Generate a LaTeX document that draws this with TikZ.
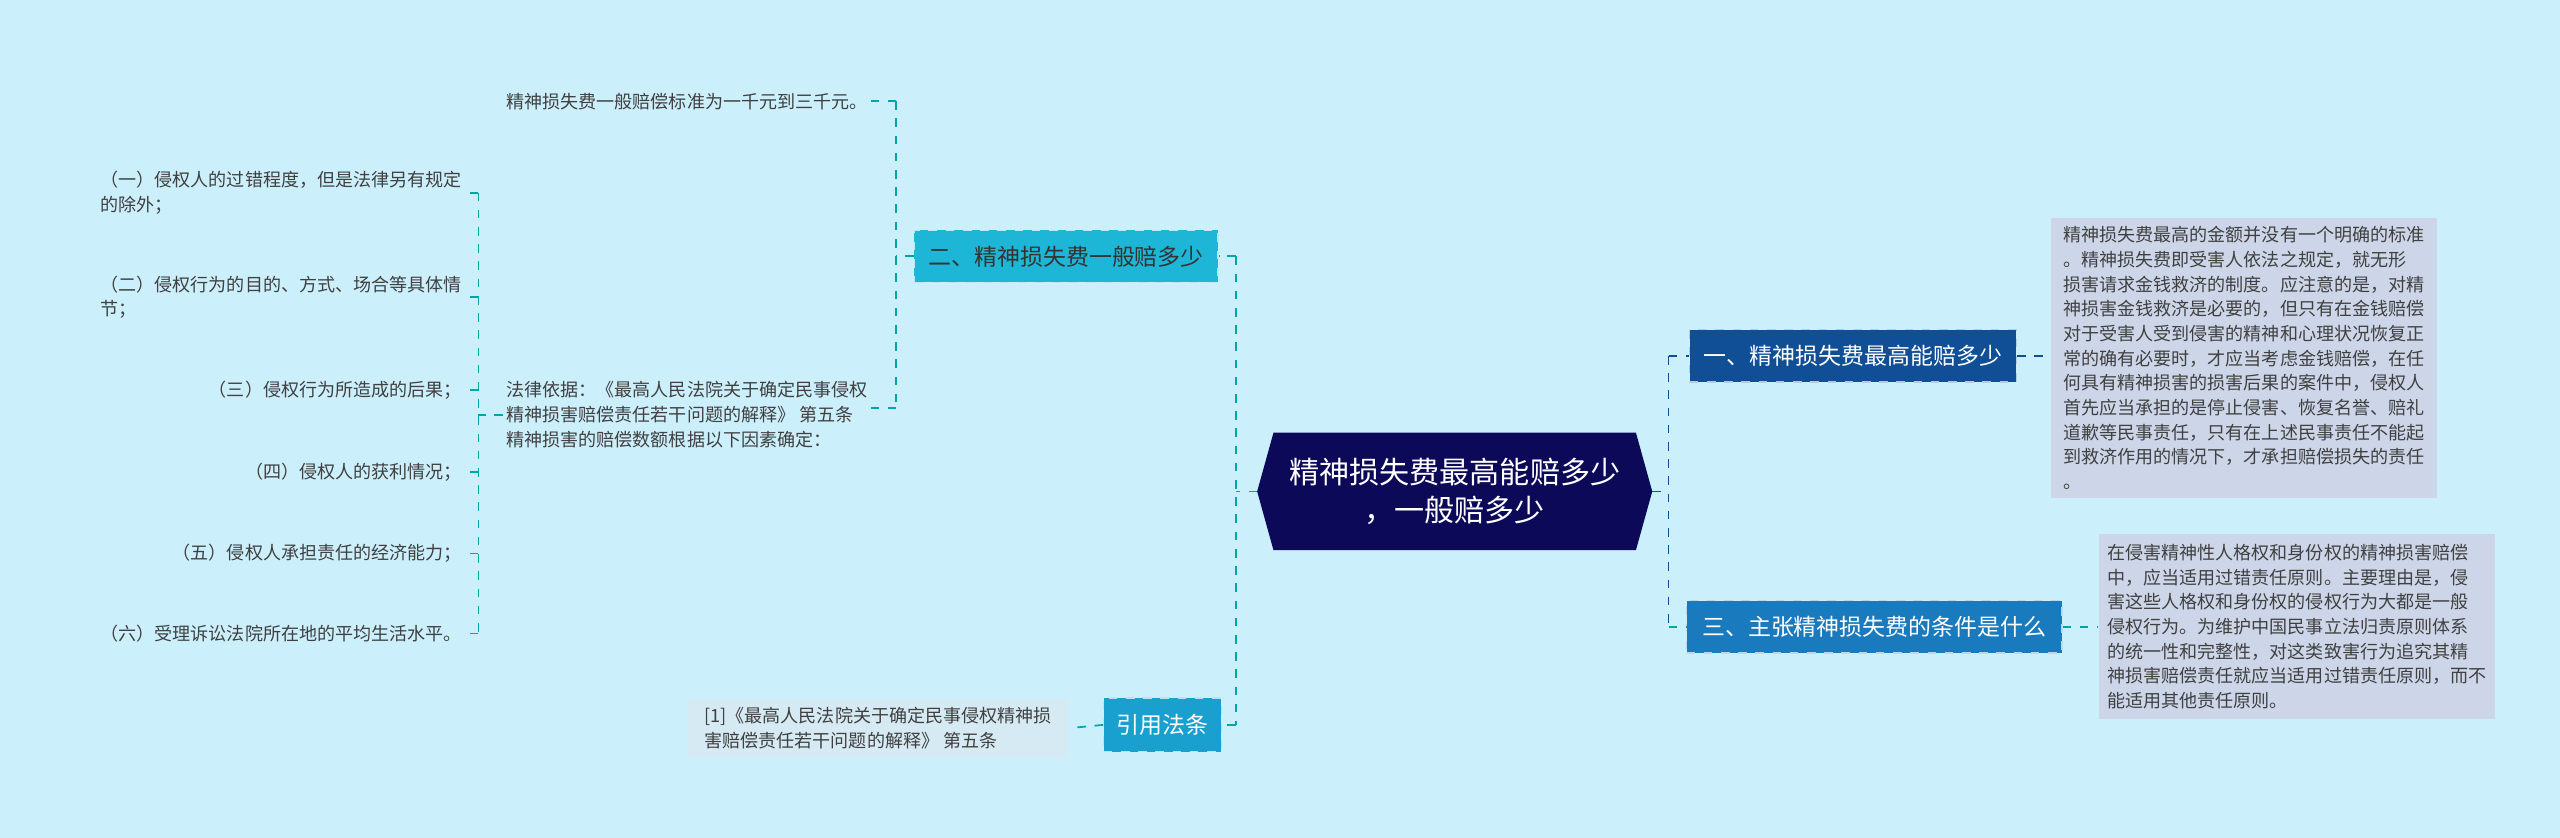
\documentclass[tikz,border=0pt]{standalone}
\usepackage{fontspec}
\setmainfont{Noto Sans CJK SC}
\definecolor{cnavy}{RGB}{12,10,88}
\definecolor{cdb}{RGB}{16,78,150}
\definecolor{cmb}{RGB}{26,122,190}
\definecolor{ccy}{RGB}{30,182,214}
\definecolor{ccite}{RGB}{26,160,206}
\definecolor{clav}{RGB}{204,214,232}
\definecolor{clb}{RGB}{214,234,244}
\begin{document}
\begin{tikzpicture}[x=0.02cm,y=-0.02cm,
  lk/.style={draw=teal!70!cyan,dashed,line width=0.6pt},
  sm/.style={font=\fontsize{6.3pt}{8.6pt}\selectfont,text=black!75,inner sep=1pt},
  tb/.style={sm,fill=#1,inner sep=3pt,align=left,anchor=north west},
  br/.style={font=\fontsize{8pt}{10pt}\selectfont,inner sep=3pt,draw=white!70!#1,dashed,fill=#1}]
\fill[cyan!20!white] (0,0) rectangle (1568,513);
\useasboundingbox (0,0) rectangle (1568,513);
% center
\fill[cnavy] (770,301)--(780,265)--(1002,265)--(1012,301)--(1002,337)--(780,337)--cycle;
\node[font=\fontsize{10.5pt}{13pt}\selectfont,text=white,align=center] (c) at (891,301) {精神损失费最高能赔多少\\，一般赔多少};
% right
\node[br=cdb,text=white,minimum height=32*0.02cm,minimum width=200*0.02cm] (r1) at (1135,218) {一、精神损失费最高能赔多少};
\node[br=cmb,text=white,minimum height=32*0.02cm,minimum width=230*0.02cm] (r3) at (1148,384) {三、主张精神损失费的条件是什么};
\node[tb=clav,minimum width=236*0.02cm,minimum height=169*0.02cm] (t1) at (1256,133) {精神损失费最高的金额并没有一个明确的标准\\。精神损失费即受害人依法之规定，就无形\\损害请求金钱救济的制度。应注意的是，对精\\神损害金钱救济是必要的，但只有在金钱赔偿\\对于受害人受到侵害的精神和心理状况恢复正\\常的确有必要时，才应当考虑金钱赔偿，在任\\何具有精神损害的损害后果的案件中，侵权人\\首先应当承担的是停止侵害、恢复名誉、赔礼\\道歉等民事责任，只有在上述民事责任不能起\\到救济作用的情况下，才承担赔偿损失的责任\\。};
\node[tb=clav,minimum width=235*0.02cm,minimum height=113*0.02cm] (t2) at (1285,327) {在侵害精神性人格权和身份权的精神损害赔偿\\中，应当适用过错责任原则。主要理由是，侵\\害这些人格权和身份权的侵权行为大都是一般\\侵权行为。为维护中国民事立法归责原则体系\\的统一性和完整性，对这类致害行为追究其精\\神损害赔偿责任就应当适用过错责任原则，而不\\能适用其他责任原则。};
% left
\node[br=ccy,text=black!80,minimum height=32*0.02cm,minimum width=186*0.02cm] (l2) at (653,157) {二、精神损失费一般赔多少};
\node[br=ccite,text=white,minimum height=33*0.02cm,minimum width=72*0.02cm] (cite) at (712,444) {引用法条};
\node[sm,anchor=west] (s1) at (308,62) {精神损失费一般赔偿标准为一千元到三千元。};
\node[sm,anchor=west,align=left] (s2) at (308,254) {法律依据：《最高人民法院关于确定民事侵权\\精神损害赔偿责任若干问题的解释》 第五条\\精神损害的赔偿数额根据以下因素确定：};
\node[tb=clb,anchor=west,minimum width=233*0.02cm,minimum height=36*0.02cm] (cb) at (421,446) {[1]《最高人民法院关于确定民事侵权精神损\\害赔偿责任若干问题的解释》 第五条};
\node[sm,anchor=east,align=left] (i1) at (285,118) {（一）侵权人的过错程度，但是法律另有规定\\的除外；};
\node[sm,anchor=east,align=left] (i2) at (285,182) {（二）侵权行为的目的、方式、场合等具体情\\节；};
\node[sm,anchor=east] (i3) at (285,239) {（三）侵权行为所造成的后果；};
\node[sm,anchor=east] (i4) at (285,289) {（四）侵权人的获利情况；};
\node[sm,anchor=east] (i5) at (285,339) {（五）侵权人承担责任的经济能力；};
\node[sm,anchor=east] (i6) at (285,388) {（六）受理诉讼法院所在地的平均生活水平。};
% connectors
\coordinate (cl) at (770,301); \coordinate (cr) at (1012,301);
\draw[lk] (cl) -- (757,301) (757,157) -- (757,444);
\draw[lk] (757,157) -- (l2.east); \draw[lk] (757,444) -- (cite.east);
\draw[lk] (l2.west) -- (549,157) (549,62) -- (549,250);
\draw[lk] (549,62) -- (s1.east); \draw[lk] (549,250) -- (s2.east|-0,250);
\draw[lk] (s2.west) -- (293,254) (293,118) -- (293,388);
\foreach \n/\yy in {i1/118,i2/182,i3/239,i4/289,i5/339,i6/388} \draw[lk] (293,\yy) -- (\n.east|-0,\yy);
\draw[lk] (cite.west) -- (cb.east);
\draw[lk,draw=cdb] (cr) -- (1022,301) (1022,218) -- (1022,384);
\draw[lk,draw=cdb] (1022,218) -- (r1.west); \draw[lk] (1022,384) -- (r3.west);
\draw[lk,draw=cdb] (r1.east) -- (t1.west|-r1);
\draw[lk] (r3.east) -- (t2.west|-r3);
\end{tikzpicture}
\end{document}
